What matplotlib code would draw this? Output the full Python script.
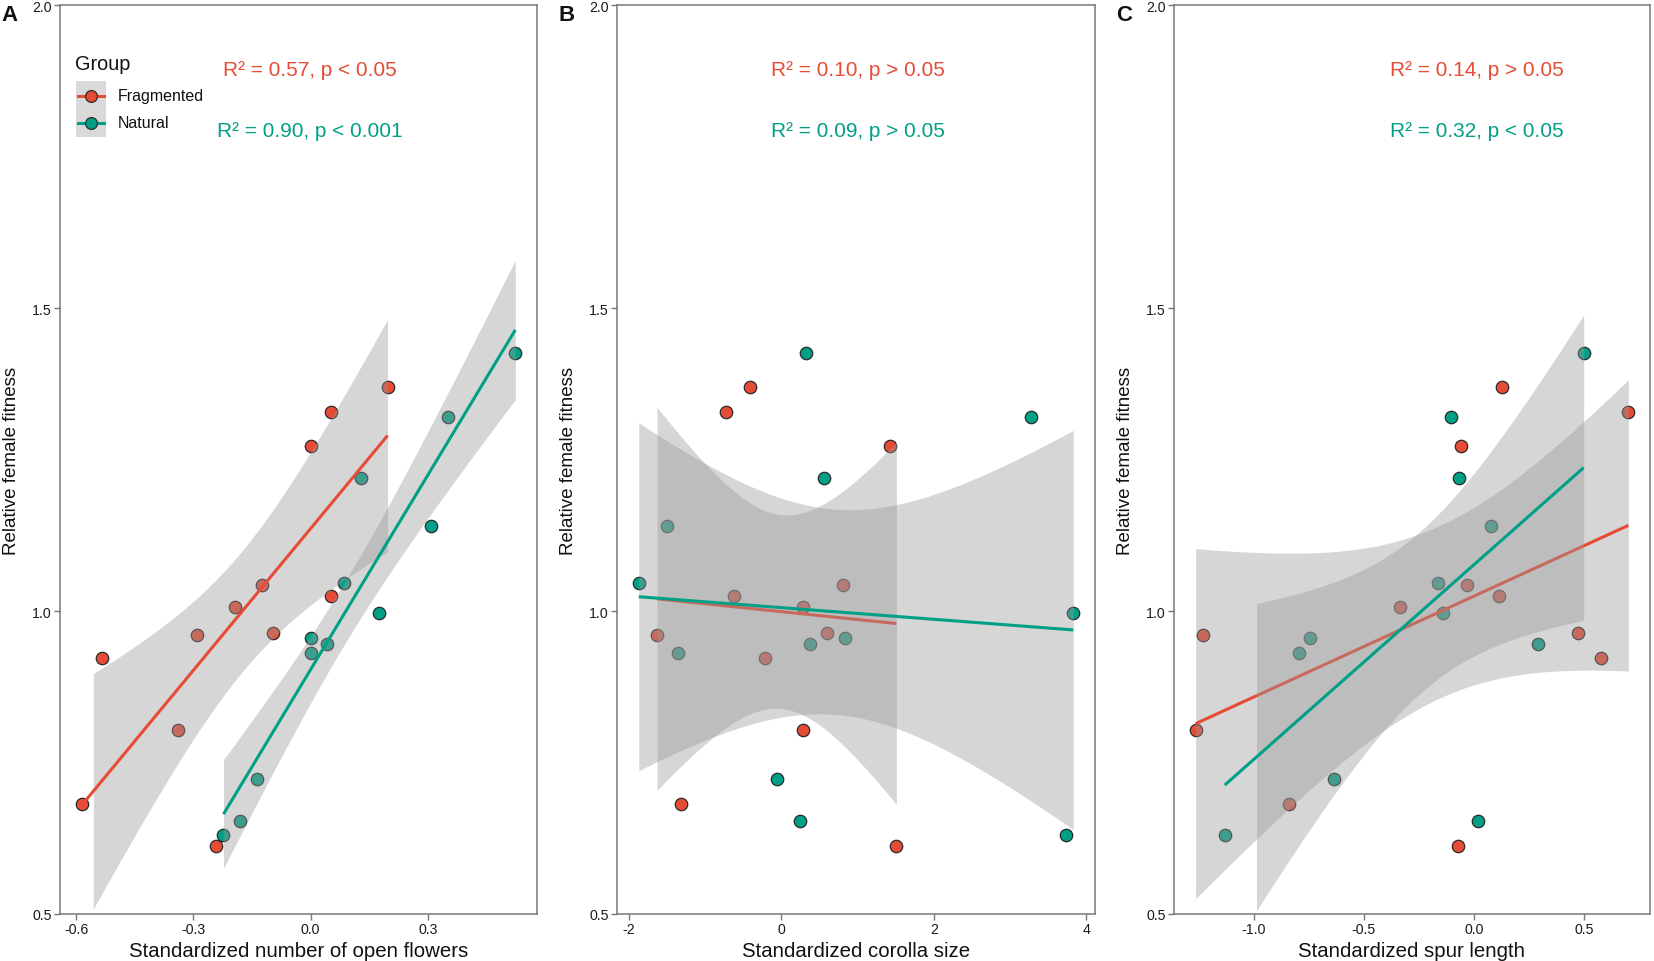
import numpy as np
import matplotlib
matplotlib.use("Agg")
import matplotlib.pyplot as plt
from matplotlib.lines import Line2D
from matplotlib.patches import Rectangle

plt.rcParams['font.family'] = ['Liberation Sans', 'DejaVu Sans']

# ---------------- data ----------------
groups = ["Fragmented", "Natural"]
colors = {"Fragmented": "#E64B35", "Natural": "#00A087"}

fit_frag = [1.370, 1.328, 1.272, 1.043, 1.025, 1.007, 0.963, 0.960, 0.922, 0.804, 0.681, 0.612]
fit_nat = [1.426, 1.320, 1.219, 1.140, 1.046, 0.997, 0.955, 0.946, 0.931, 0.723, 0.653, 0.630]

flowers_frag = [0.197, 0.051, 0.000, -0.125, 0.051, -0.194, -0.095, -0.292, -0.535, -0.340, -0.586, -0.243]
flowers_nat = [0.524, 0.351, 0.130, 0.307, 0.085, 0.174, 0.000, 0.043, 0.000, -0.138, -0.182, -0.223]

corolla_frag = [-0.41, -0.72, 1.42, 0.81, -0.62, 0.29, 0.60, -1.63, -0.21, 0.29, -1.32, 1.51]
corolla_nat = [0.32, 3.27, 0.56, -1.50, -1.87, 3.83, 0.83, 0.38, -1.35, -0.05, 0.24, 3.73]

spur_frag = [0.126, 0.702, -0.060, -0.033, 0.114, -0.334, 0.474, -1.231, 0.579, -1.264, -0.841, -0.074]
spur_nat = [0.499, -0.102, -0.069, 0.078, -0.165, -0.140, -0.744, 0.293, -0.793, -0.635, 0.017, -1.132]

panel_letters = ["A", "B", "C"]
x_titles = ["Standardized number of open flowers", "Standardized corolla size", "Standardized spur length"]
x_ticks = [[-0.6, -0.3, 0.0, 0.3], [-2, 0, 2, 4], [-1.0, -0.5, 0.0, 0.5]]
x_ticklabels = [["-0.6", "-0.3", "0.0", "0.3"], ["-2", "0", "2", "4"], ["-1.0", "-0.5", "0.0", "0.5"]]
y_ticks = [0.5, 1.0, 1.5, 2.0]
y_ticklabels = ["0.5", "1.0", "1.5", "2.0"]
y_title = "Relative female fitness"
legend_title = "Group"

stats_frag = ["R² = 0.57, p < 0.05", "R² = 0.10, p > 0.05", "R² = 0.14, p > 0.05"]
stats_nat = ["R² = 0.90, p < 0.001", "R² = 0.09, p > 0.05", "R² = 0.32, p < 0.05"]

traits = [(flowers_frag, flowers_nat), (corolla_frag, corolla_nat), (spur_frag, spur_nat)]

YLIM = (0.5, 2.0)
T975 = 2.228  # t quantile, df = 10

# ---------------- layout (pixels) ----------------
W, H = 1654, 962
fig = plt.figure(figsize=(W / 100, H / 100), dpi=100)
fig.patch.set_facecolor("white")
panels_px = [(60, 537), (617, 1095), (1174, 1650)]
top_px, bot_px = 6, 915
stat_x = [0.524, 0.504, 0.637]

spine_col = "#777777"
ribbon_col = "#999999"


def smooth(ax, x, y, col, z):
    x = np.asarray(x, float)
    y = np.asarray(y, float)
    n = len(x)
    b, a = np.polyfit(x, y, 1)
    xs = np.linspace(x.min(), x.max(), 80)
    pred = a + b * xs
    resid = y - (a + b * x)
    s = np.sqrt(np.sum(resid ** 2) / (n - 2))
    sxx = np.sum((x - x.mean()) ** 2)
    se = s * np.sqrt(1.0 / n + (xs - x.mean()) ** 2 / sxx)
    lo, hi = pred - T975 * se, pred + T975 * se
    keep = (lo >= YLIM[0]) & (hi <= YLIM[1])
    ax.fill_between(xs[keep], lo[keep], hi[keep], color=ribbon_col, alpha=0.4,
                    linewidth=0, zorder=z)
    ax.plot(xs, pred, color=col, linewidth=2.2, zorder=z + 0.5, solid_capstyle="butt")


for i in range(3):
    l, r = panels_px[i]
    ax = fig.add_axes([l / W, (H - bot_px) / H, (r - l) / W, (bot_px - top_px) / H])
    xf, xn = traits[i]
    allx = np.array(xf + xn)
    span = allx.max() - allx.min()
    ax.set_xlim(allx.min() - 0.05 * span, allx.max() + 0.05 * span)
    ax.set_ylim(*YLIM)

    ax.scatter(xf, fit_frag, s=80, facecolor=colors["Fragmented"], edgecolor="#2a2a2a",
               linewidth=0.9, zorder=2)
    ax.scatter(xn, fit_nat, s=80, facecolor=colors["Natural"], edgecolor="#2a2a2a",
               linewidth=0.9, zorder=2)
    smooth(ax, xf, fit_frag, colors["Fragmented"], 3)
    smooth(ax, xn, fit_nat, colors["Natural"], 5)

    ax.set_xticks(x_ticks[i])
    ax.set_xticklabels(x_ticklabels[i])
    ax.set_yticks(y_ticks)
    ax.set_yticklabels(y_ticklabels)
    ax.tick_params(axis="both", length=4, width=1.0, color=spine_col, labelsize=10.2,
                   labelcolor="#1a1a1a", pad=2)
    for sp in ax.spines.values():
        sp.set_color(spine_col)
        sp.set_linewidth(1.1)

    ax.set_xlabel(x_titles[i], fontsize=14.7, color="#111111")
    ax.xaxis.set_label_coords(0.5, -0.0407)
    ax.xaxis.label.set_va("center")
    ax.set_ylabel(y_title, fontsize=13.5, color="#111111")
    ax.yaxis.set_label_coords(-0.102, 0.5)
    ax.yaxis.label.set_va("center")

    ax.text(-0.105, 0.989, panel_letters[i], transform=ax.transAxes, fontsize=16,
            fontweight="bold", ha="center", va="center", color="#111111")

    ax.text(stat_x[i], 0.929, stats_frag[i], transform=ax.transAxes, fontsize=15,
            color=colors["Fragmented"], ha="center", va="center")
    ax.text(stat_x[i], 0.862, stats_nat[i], transform=ax.transAxes, fontsize=15,
            color=colors["Natural"], ha="center", va="center")

    if i == 0:
        # manual ggplot-style legend (pixel positions converted to axes fractions)
        def ax_x(px):
            return (px - l) / (r - l)

        def ax_y(py):
            return (bot_px - py) / (bot_px - top_px)

        ax.text(ax_x(75), ax_y(64), legend_title, transform=ax.transAxes, fontsize=14.3,
                ha="left", va="center", color="#111111")
        ax.add_patch(Rectangle((ax_x(76), ax_y(138)), ax_x(106) - ax_x(76),
                               ax_y(82) - ax_y(138), transform=ax.transAxes,
                               facecolor="#d9d9d9", edgecolor="none", zorder=7))
        for g, ky in zip(groups, [96.5, 124]):
            ax.add_line(Line2D([ax_x(78), ax_x(104)], [ax_y(ky), ax_y(ky)],
                               transform=ax.transAxes, color=colors[g], linewidth=2.2,
                               zorder=8))
            ax.add_line(Line2D([ax_x(91)], [ax_y(ky)], transform=ax.transAxes,
                               marker="o", markersize=8.5, markerfacecolor=colors[g],
                               markeredgecolor="#2a2a2a", markeredgewidth=0.9,
                               linestyle="none", zorder=9))
            ax.text(ax_x(118), ax_y(ky), g, transform=ax.transAxes, fontsize=11.5,
                    ha="left", va="center", color="#111111")

fig.savefig("out.png", dpi=100, facecolor="white")
